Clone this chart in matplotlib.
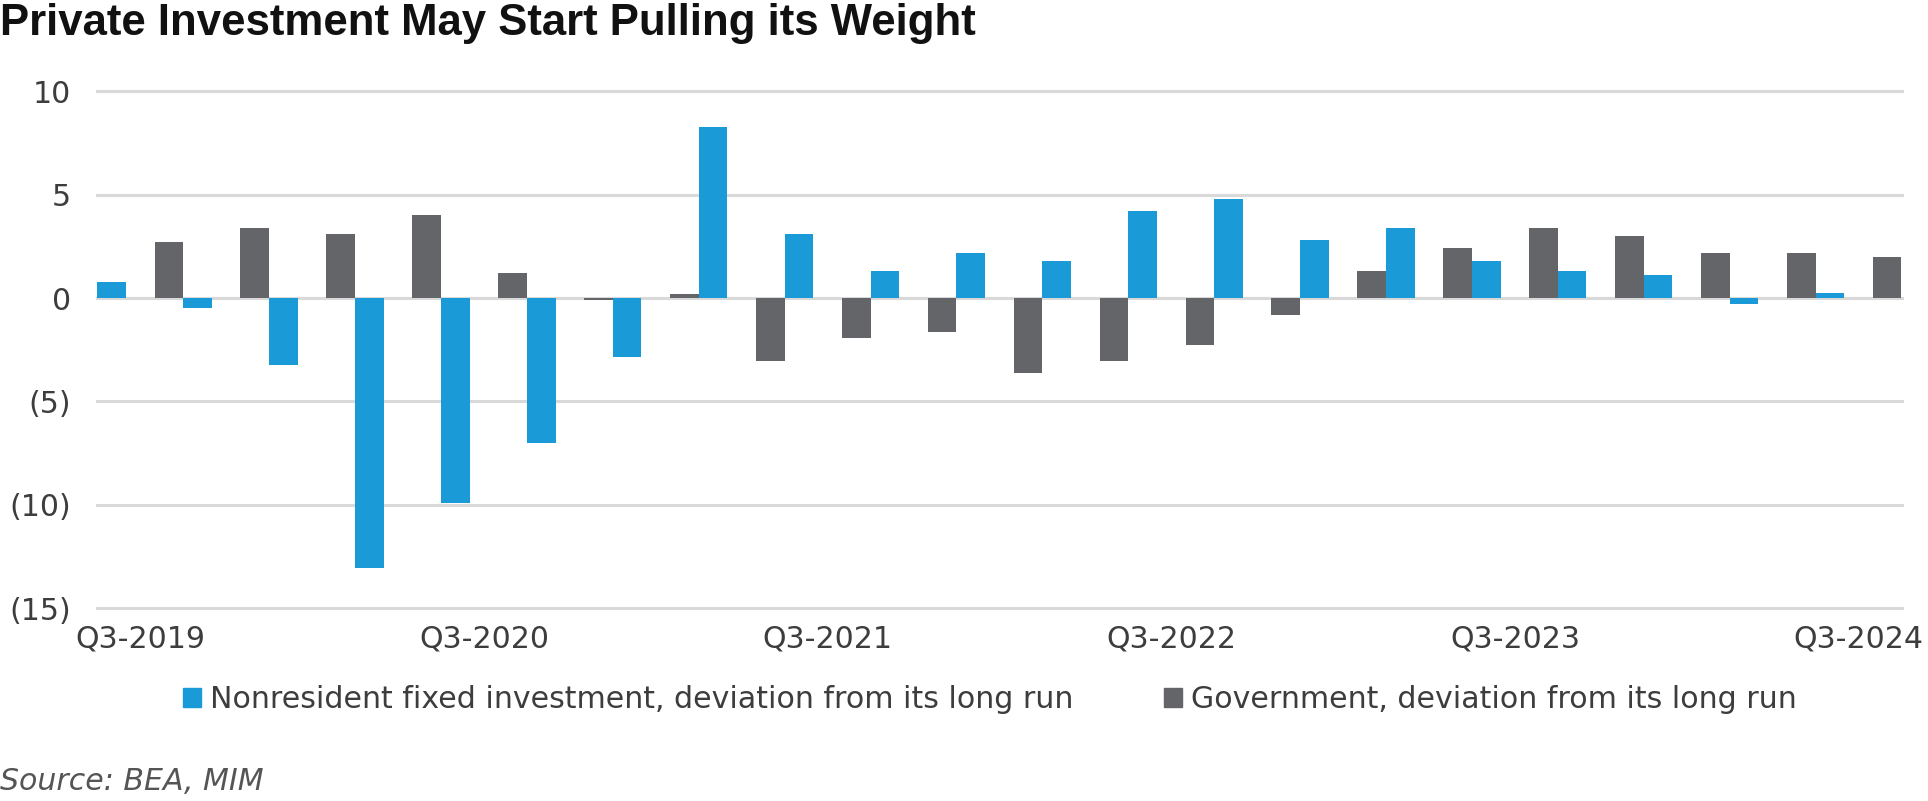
import matplotlib.pyplot as plt
from matplotlib.patches import Patch

# quarterly deviations from long run, Q3-2019 .. Q3-2024
quarters = ["Q3-2019", "Q4-2019", "Q1-2020", "Q2-2020", "Q3-2020", "Q4-2020",
            "Q1-2021", "Q2-2021", "Q3-2021", "Q4-2021", "Q1-2022", "Q2-2022",
            "Q3-2022", "Q4-2022", "Q1-2023", "Q2-2023", "Q3-2023", "Q4-2023",
            "Q1-2024", "Q2-2024", "Q3-2024"]
nonres = [0.8, -0.5, -3.25, -13.05, -9.9, -7.0, -2.85, 8.3, 3.1, 1.3, 2.2,
          1.8, 4.2, 4.8, 2.8, 3.4, 1.8, 1.3, 1.1, -0.3, 0.25]
govt = [2.7, 3.4, 3.1, 4.0, 1.2, -0.1, 0.2, -3.05, -1.95, -1.65, -3.65,
        -3.05, -2.25, -0.8, 1.3, 2.4, 3.4, 3.0, 2.2, 2.2, 2.0]
yticks = [10, 5, 0, -5, -10, -15]
ytick_labels = ["10", "5", "0", "(5)", "(10)", "(15)"]

BLUE = "#1a9bd7"
GRAY = "#636569"
TXT = "#3d3d3d"
FS = 21.6

plt.rcParams['font.family'] = ['DejaVu Sans']

fig = plt.figure(figsize=(19.28, 8.01), dpi=100)
ax = fig.add_axes([97.3 / 1928, 1 - 608 / 801, (1901.5 - 97.3) / 1928, (608 - 91.4) / 801])

x = list(range(len(quarters)))
w = 1 / 3
ax.bar(x, nonres, width=w, align='edge', color=BLUE, zorder=3)
ax.bar([i + 1 - w for i in x], govt, width=w, align='edge', color=GRAY, zorder=3)

for v in yticks:
    ax.axhline(v, color="#d9d9d9", lw=2.2, zorder=1, clip_on=False)

ax.set_xlim(0, len(quarters))
ax.set_ylim(-15, 10)
ax.set_yticks(yticks)
ax.set_yticklabels(ytick_labels)
tick_idx = list(range(0, len(quarters), 4))
ax.set_xticks([i + 0.5 for i in tick_idx])
ax.set_xticklabels([quarters[i] for i in tick_idx])
ax.tick_params(axis='both', length=0, labelsize=FS, colors=TXT)
ax.tick_params(axis='y', pad=19)
ax.tick_params(axis='x', pad=12)
for s in ax.spines.values():
    s.set_visible(False)

handles = [Patch(color=BLUE, label="Nonresident fixed investment, deviation from its long run"),
           Patch(color=GRAY, label="Government, deviation from its long run")]
fig.legend(handles=handles, loc='center', bbox_to_anchor=(990 / 1928, 1 - 700 / 801),
           ncol=2, frameon=False, fontsize=FS, labelcolor=TXT,
           handlelength=0.6, handleheight=0.6, handletextpad=0.3, columnspacing=3.0)

fig.text(0.0, 1 - 3 / 801, "Private Investment May Start Pulling its Weight",
         ha='left', va='top', fontsize=31.5, fontweight='bold',
         family='Liberation Sans', color="#111111")
fig.text(0.0, 1 - 782 / 801, "Source: BEA, MIM", ha='left', va='center',
         fontsize=FS, style='italic', color="#555555")

fig.savefig("out.png", dpi=100)
